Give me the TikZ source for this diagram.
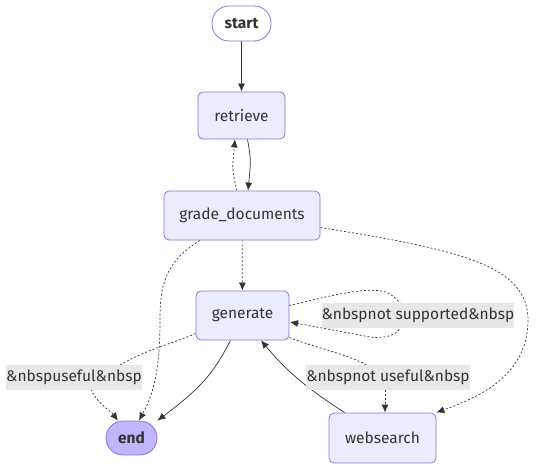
\documentclass[tikz,border=0pt]{standalone}
\usepackage{fontspec}
\setmainfont{Fira Sans}
\usetikzlibrary{arrows.meta,backgrounds}
\definecolor{nodefill}{HTML}{ECECFF}
\definecolor{nodeborder}{HTML}{9370DB}
\definecolor{endfill}{HTML}{BFB6FC}
\definecolor{edgecol}{HTML}{333333}
\definecolor{lblbg}{HTML}{E8E8E8}
\definecolor{txt}{HTML}{333333}
\begin{document}
\begin{tikzpicture}[x=1pt,y=-1pt,
  box/.style={draw=nodeborder,fill=nodefill,line width=0.8pt,rounded corners=5pt,inner sep=0pt,font=\fontsize{15.5}{18}\selectfont,text=txt},
  pill/.style={draw=nodeborder,line width=0.8pt,rounded corners=17pt,inner sep=0pt,font=\fontsize{15.5}{18}\selectfont\bfseries,text=txt},
  lbl/.style={fill=lblbg,inner sep=0pt,minimum height=25pt,font=\fontsize{15.5}{18}\selectfont,text=txt},
  solidedge/.style={draw=edgecol,line width=0.7pt,-{Latex[length=8pt,width=7pt]}},
  dotedge/.style={draw=edgecol,line width=0.7pt,dash pattern=on 2pt off 2pt,-{Latex[length=8pt,width=7pt]}},
  dotline/.style={draw=edgecol,line width=0.7pt,dash pattern=on 2pt off 2pt}
]
\begin{pgfonlayer}{background}
\fill[white] (0,0) rectangle (541,471);
\end{pgfonlayer}
\useasboundingbox (0,0) rectangle (541,471);
% nodes
\node[pill,fill=white,minimum width=59pt,minimum height=35pt] (start) at (241.5,23.5) {start};
\node[box,minimum width=87pt,minimum height=47pt] (retrieve) at (241.5,115.5) {retrieve};
\node[box,minimum width=156pt,minimum height=49pt] (grade) at (242,215.5) {grade\_documents};
\node[box,minimum width=93pt,minimum height=49pt] (generate) at (242.5,315.5) {generate};
\node[pill,fill=endfill,minimum width=51pt,minimum height=34pt] (end) at (131.5,438) {end};
\node[box,minimum width=107pt,minimum height=50pt] (web) at (382.5,438) {websearch};
% labels
\node[lbl,minimum width=192pt] (lns) at (418,315) {\&nbspnot supported\&nbsp};
\node[lbl,minimum width=132pt] (lu) at (74,377.5) {\&nbspuseful\&nbsp};
\node[lbl,minimum width=160pt] (lnu) at (388,377.5) {\&nbspnot useful\&nbsp};
% edges
\begin{pgfonlayer}{background}
\draw[solidedge] (start) -- (retrieve);
\draw[solidedge] (retrieve.south) ++(6,0) .. controls (251,160) .. (grade.north -| 248,0);
\draw[dotedge] (grade.north) ++(-5,0) .. controls (232,170) .. (retrieve.south -| 235,0);
\draw[dotedge] (grade) -- (generate);
\draw[dotedge] (grade.south) ++(-42,0) .. controls (165,262) and (160,285) .. (160,320) .. controls (160,380) and (150,400) .. (end.north -| 139,0);
\draw[dotedge] (grade.east) ++(0,12) .. controls (460,250) and (528,265) .. (528,320) .. controls (528,380) and (470,400) .. (web.north east);
\draw[dotline] (generate.east) ++(0,-10) .. controls (330,296) and (370,285) .. (388,293) .. controls (400,300) and (405,308) .. (lns.center -| 405,0);
\draw[dotedge] (lns.center -| 405,0) .. controls (405,328) and (395,340) .. (370,337) -- (290,322);
\draw[dotline] (generate.west) ++(0,18) .. controls (170,345) and (125,355) .. (lu.center -| 105,0);
\draw[dotedge] (lu.center -| 88,0) .. controls (90,400) and (110,410) .. (end.north -| 118,0);
\draw[dotline] (generate.east) ++(0,22) .. controls (320,350) and (370,358) .. (lnu.center -| 380,0);
\draw[dotedge] (lnu.center -| 385,0) -- (web.north -| 385,0);
\draw[solidedge] (generate.south) ++(-12,0) .. controls (215,370) and (205,385) .. (end.north east);
\draw[solidedge] (web.north west) ++(16,0) .. controls (310,390) and (290,375) .. (generate.south -| 261,0);
\end{pgfonlayer}
\end{tikzpicture}
\end{document}
